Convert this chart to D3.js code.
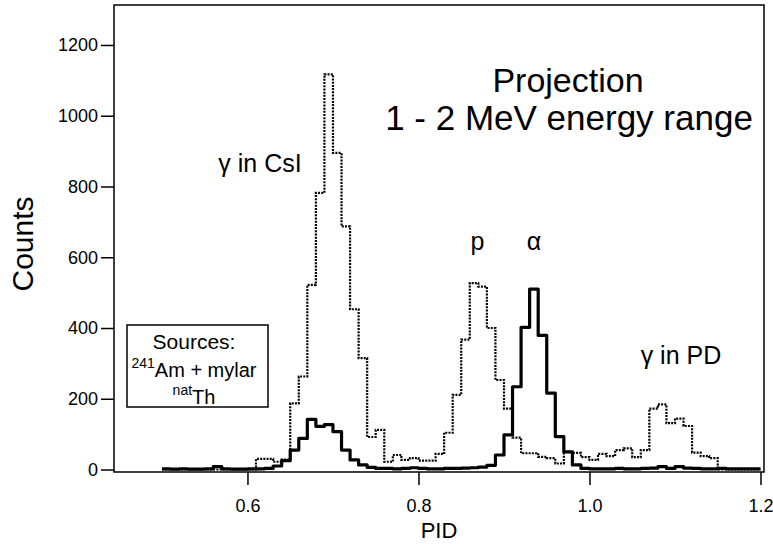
<!DOCTYPE html>
<html>
<head>
<meta charset="utf-8">
<script src="https://cdn.jsdelivr.net/npm/d3@7"></script>
<style>
  html, body { margin: 0; padding: 0; background: #fff; }
  svg { display: block; font-family: "Liberation Sans", Arial, sans-serif; }
</style>
</head>
<body>
<svg id="chart" width="773" height="544"></svg>
<script>
// ---- data ----
const pidBinEdges = [0.50,0.51,0.52,0.53,0.54,0.55,0.56,0.57,0.58,0.59,
  0.60,0.61,0.62,0.63,0.64,0.65,0.66,0.67,0.68,0.69,
  0.70,0.71,0.72,0.73,0.74,0.75,0.76,0.77,0.78,0.79,
  0.80,0.81,0.82,0.83,0.84,0.85,0.86,0.87,0.88,0.89,
  0.90,0.91,0.92,0.93,0.94,0.95,0.96,0.97,0.98,0.99,
  1.00,1.01,1.02,1.03,1.04,1.05,1.06,1.07,1.08,1.09,
  1.10,1.11,1.12,1.13,1.14,1.15,1.16,1.17,1.18,1.19,1.20];

// 241Am + mylar (solid) counts per bin
const countsSolid = [2,1,2,1,1,2,8,2,1,1,
  2,2,3,10,25,55,88,142,122,127,
  107,55,27,13,6,3,3,2,3,5,
  3,2,2,3,3,4,5,7,12,41,
  98,234,402,510,379,216,93,50,13,3,
  2,2,2,3,2,2,3,4,8,3,
  8,4,3,2,2,3,2,2,2,2];

// natTh (dotted) counts per bin
const countsDotted = [0,0,0,0,0,0,0,0,0,0,
  0,30,30,22,28,187,263,522,782,1117,
  895,687,453,315,92,112,22,41,27,32,
  25,25,44,104,211,367,527,517,400,253,
  172,90,46,46,36,32,17,50,47,35,
  27,44,38,55,60,35,55,172,184,131,
  144,123,48,38,32,0,0,0,0,0];

const xTicks = [0.6, 0.8, 1.0, 1.2];
const xTickLabels = ["0.6", "0.8", "1.0", "1.2"];
const yTicks = [0, 200, 400, 600, 800, 1000, 1200];

const titleLines = ["Projection", "1 - 2 MeV energy range"];
const peakLabels = [
  { text: "γ in CsI", x: 0.6147, y: 840 },
  { text: "p",        x: 0.869,  y: 620 },
  { text: "α",        x: 0.935,  y: 620 },
  { text: "γ in PD",  x: 1.107,  y: 297 }
];

// ---- layout ----
const frame = { left: 114, right: 764, top: 5, bottom: 472 };

const svg = d3.select("#chart");

const x = d3.scaleLinear().domain([0.4439, 1.2041]).range([frame.left, frame.right]);
const y = d3.scaleLinear().domain([-7, 1313]).range([frame.bottom, frame.top]);

function addText(g, px, py, str, size, anchor) {
  return g.append("text")
    .attr("x", px).attr("y", py)
    .attr("text-anchor", anchor || "middle")
    .attr("font-size", size)
    .attr("fill", "#000")
    .text(str);
}

// step series
function stepPoints(vals) {
  const pts = vals.map((v, i) => [pidBinEdges[i], v]);
  pts.push([pidBinEdges[vals.length], vals[vals.length - 1]]);
  return pts;
}
const line = d3.line().x(d => x(d[0])).y(d => y(d[1])).curve(d3.curveStepAfter);

svg.append("path")
  .attr("d", line(stepPoints(countsDotted)))
  .attr("fill", "none").attr("stroke", "#000")
  .attr("stroke-width", 2.2).attr("stroke-dasharray", "2,1.2");

svg.append("path")
  .attr("d", line(stepPoints(countsSolid)))
  .attr("fill", "none").attr("stroke", "#000")
  .attr("stroke-width", 3.2).attr("stroke-linejoin", "round");

// frame
svg.append("rect")
  .attr("x", frame.left).attr("y", frame.top)
  .attr("width", frame.right - frame.left).attr("height", frame.bottom - frame.top)
  .attr("fill", "none").attr("stroke", "#000").attr("stroke-width", 1.5);

// axes
const yAxis = d3.axisLeft(y).tickValues(yTicks).tickSize(13).tickPadding(3).tickFormat(d3.format("d"));
const gy = svg.append("g").attr("transform", `translate(${frame.left},0)`).call(yAxis);
gy.select(".domain").remove();
gy.selectAll(".tick line").attr("stroke-width", 1.5);
gy.selectAll(".tick text")
  .attr("font-size", 18).attr("font-family", "Liberation Sans, Arial, sans-serif");

const xAxis = d3.axisBottom(x).tickValues(xTicks).tickSize(13).tickFormat((d, i) => xTickLabels[i]);
const gx = svg.append("g").attr("transform", `translate(0,${frame.bottom})`).call(xAxis);
gx.select(".domain").remove();
gx.selectAll(".tick line").attr("stroke-width", 1.5);
gx.selectAll(".tick text")
  .attr("y", 40).attr("dy", null)
  .attr("font-size", 18).attr("font-family", "Liberation Sans, Arial, sans-serif");

// axis titles
addText(svg, (frame.left + frame.right) / 2, 538, "PID", 22);
svg.append("text")
  .attr("transform", "translate(33,244) rotate(-90)")
  .attr("text-anchor", "middle").attr("font-size", 30).text("Counts");

// title
addText(svg, 568, 92, titleLines[0], 34);
addText(svg, 569, 130, titleLines[1], 35);

// peak labels
peakLabels.forEach(l => addText(svg, x(l.x), y(l.y), l.text, 25));

// legend box
svg.append("rect")
  .attr("x", 127).attr("y", 325).attr("width", 141).attr("height", 82)
  .attr("fill", "#fff").attr("stroke", "#000").attr("stroke-width", 1.5);
addText(svg, 194, 349, "Sources:", 21);
const t2 = svg.append("text").attr("x", 194).attr("y", 377).attr("text-anchor", "middle");
t2.append("tspan").attr("font-size", 14).attr("dy", -9).text("241");
t2.append("tspan").attr("font-size", 20).attr("dy", 9).text("Am + mylar");
const t3 = svg.append("text").attr("x", 194).attr("y", 404).attr("text-anchor", "middle");
t3.append("tspan").attr("font-size", 14).attr("dy", -9).text("nat");
t3.append("tspan").attr("font-size", 20).attr("dy", 9).text("Th");
</script>
</body>
</html>
